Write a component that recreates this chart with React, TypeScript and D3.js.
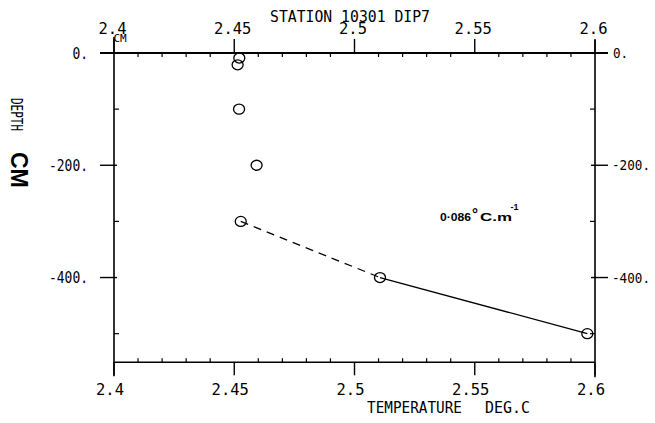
import React from "react";
import * as d3 from "d3";

const temperature = [2.4521, 2.4514, 2.452, 2.4593, 2.4527, 2.5106, 2.5968];
const depth = [-9, -21, -100, -200, -300, -400, -500];
const dashedSegment = [4, 5];
const solidSegment = [5, 6];
const xMajorTicks = [2.4, 2.45, 2.5, 2.55, 2.6];
const xTickLabels = ["2.4", "2.45", "2.5", "2.55", "2.6"];
const yMajorTicks = [0, -200, -400];
const yTickLabels = ["0.", "-200.", "-400."];
const yMinorTicks = [-100, -300, -500];

const W = 655;
const H = 423;
const mono = "'DejaVu Sans Mono', 'Liberation Mono', monospace";
const sans = "'Liberation Sans', Arial, sans-serif";

export default function App() {
  const x = d3.scaleLinear().domain([2.4, 2.6]).range([114, 595]);
  const y = d3.scaleLinear().domain([0, -551]).range([53, 362.3]);
  const x0 = x(2.4), x1 = x(2.6), yTop = y(0), yBot = y(-551);
  const xMinor = d3.range(1, 20).map((i) => 2.4 + i * 0.01).filter((v) => Math.abs(Math.round(v * 20) - v * 20) > 1e-6);
  const line = d3.line<number>().x((i) => x(temperature[i])).y((i) => y(depth[i]));
  const stroke = "#000";
  return (
    <svg width={W} height={H} style={{ position: "absolute", left: 0, top: 0, background: "#fff" }}>
      <rect width={W} height={H} fill="#fff" />
      {/* frame */}
      <line x1={x0} x2={x1} y1={yBot} y2={yBot} stroke={stroke} strokeWidth={1.6} />
      <line x1={x0} x2={x0} y1={yTop - 16} y2={yBot + 14} stroke={stroke} strokeWidth={1.6} />
      <line x1={x1} x2={x1} y1={yTop - 13} y2={yBot + 15} stroke={stroke} strokeWidth={1.6} />
      {/* x major ticks */}
      {xMajorTicks.map((v, i) => (
        <g key={"xm" + i}>
          <line x1={x(v)} x2={x(v)} y1={yTop - 14} y2={yTop} stroke={stroke} strokeWidth={1.4} />
          <line x1={x(v)} x2={x(v)} y1={yBot} y2={yBot + 13} stroke={stroke} strokeWidth={1.4} />
          <text x={x(v) - 1.5} y={33.5} textAnchor="middle" fontFamily={mono} fontSize={15.5} fill={stroke}>{xTickLabels[i]}</text>
          <text x={x(v) - 4} y={394.5} textAnchor="middle" fontFamily={mono} fontSize={15.5} fill={stroke}>{xTickLabels[i]}</text>
        </g>
      ))}
      {/* x minor ticks */}
      {xMinor.map((v, i) => (
        <g key={"xn" + i}>
          <line x1={x(v)} x2={x(v)} y1={yTop} y2={yTop + 4} stroke={stroke} strokeWidth={1.2} />
          <line x1={x(v)} x2={x(v)} y1={yBot} y2={yBot - 4} stroke={stroke} strokeWidth={1.2} />
        </g>
      ))}
      {/* y major ticks */}
      {yMajorTicks.map((v, i) => (
        <g key={"ym" + i}>
          <line x1={x0 - 14} x2={v === 0 ? x1 + 13 : x0 + 3} y1={y(v)} y2={y(v)} stroke={stroke} strokeWidth={v === 0 ? 2 : 1.4} />
          {v !== 0 && <line x1={x1 - 4} x2={x1 + 13} y1={y(v)} y2={y(v)} stroke={stroke} strokeWidth={1.4} />}
          <text x={88} y={y(v) + 5.5} textAnchor="end" fontFamily={mono} fontSize={15} fill={stroke} textLength={yTickLabels[i].length * 7.8} lengthAdjust="spacingAndGlyphs">{yTickLabels[i]}</text>
          <text x={v === 0 ? 613 : 612} y={y(v) + 5} textAnchor="start" fontFamily={mono} fontSize={13.5} fill={stroke} textLength={yTickLabels[i].length * 7.6} lengthAdjust="spacingAndGlyphs">{yTickLabels[i]}</text>
        </g>
      ))}
      {yMinorTicks.map((v, i) => (
        <g key={"yn" + i}>
          <line x1={x0} x2={x0 + 5} y1={y(v)} y2={y(v)} stroke={stroke} strokeWidth={1.2} />
          <line x1={x1} x2={x1 - 5} y1={y(v)} y2={y(v)} stroke={stroke} strokeWidth={1.2} />
        </g>
      ))}
      {/* titles */}
      <text x={270} y={22} fontFamily={mono} fontSize={15} fill={stroke} textLength={160} lengthAdjust="spacingAndGlyphs">STATION 10301 DIP7</text>
      <text x={120} y={42} textAnchor="middle" fontFamily={mono} fontSize={11} fill={stroke}>CM</text>
      <text x={367} y={413} fontFamily={mono} fontSize={15} fill={stroke} textLength={95} lengthAdjust="spacingAndGlyphs">TEMPERATURE</text>
      <text x={485} y={413} fontFamily={mono} fontSize={15} fill={stroke} textLength={45} lengthAdjust="spacingAndGlyphs">DEG.C</text>
      <text transform="translate(11,98) rotate(90)" fontFamily={mono} fontSize={15} fill={stroke} textLength={33} lengthAdjust="spacingAndGlyphs">DEPTH</text>
      <text transform="translate(11,152) rotate(90)" fontFamily={sans} fontWeight="bold" fontSize={23} fill={stroke}>CM</text>
      {/* gradient annotation */}
      <text x={440} y={221} fontFamily={sans} fontWeight="bold" fontSize={10.5} fill={stroke} textLength={31} lengthAdjust="spacingAndGlyphs">0·086</text>
      <text x={472} y={219} fontFamily={sans} fontWeight="bold" fontSize={15} fill={stroke}>°</text>
      <text x={480} y={221} fontFamily={sans} fontWeight="bold" fontSize={10.5} fill={stroke} textLength={32} lengthAdjust="spacingAndGlyphs">C.m</text>
      <text x={510.5} y={210} fontFamily={sans} fontWeight="bold" fontSize={9} fill={stroke}>-1</text>
      {/* fit lines */}
      <path d={line(dashedSegment) || ""} fill="none" stroke={stroke} strokeWidth={1.3} strokeDasharray="8,6" />
      <path d={line(solidSegment) || ""} fill="none" stroke={stroke} strokeWidth={1.3} />
      {/* points */}
      {temperature.map((t, i) => (
        <ellipse key={"p" + i} cx={x(t)} cy={y(depth[i])} rx={5.5} ry={5} fill="none" stroke={stroke} strokeWidth={1.3} />
      ))}
    </svg>
  );
}
